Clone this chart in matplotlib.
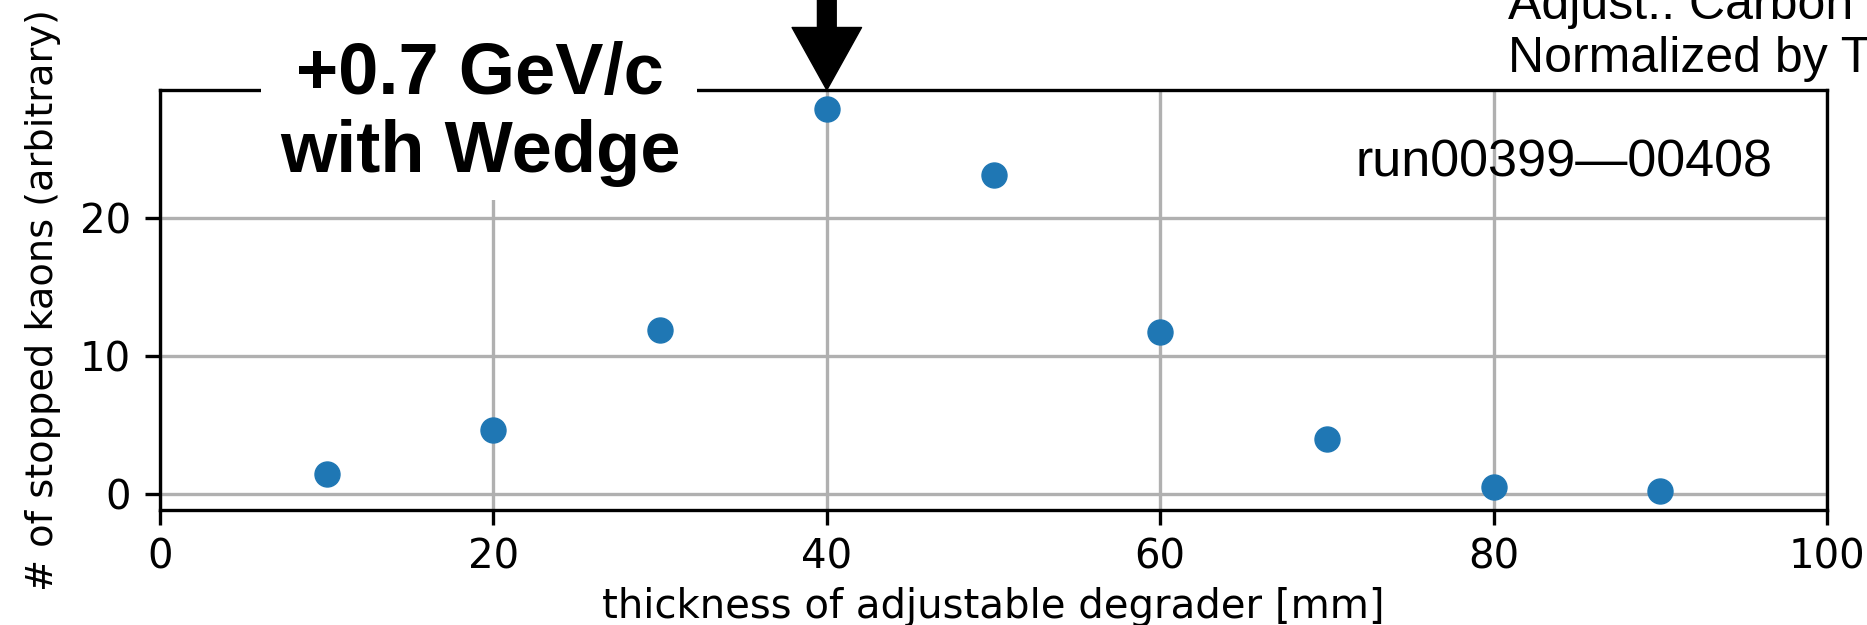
'''
Stopped kaon yield versus the thickness of the adjustable degrader
(+0.7 GeV/c beam, wedge installed), runs 399-408.
'''

import matplotlib.pyplot as plt
from matplotlib.patches import Rectangle

########################################
# Data

thickness = [10, 20, 30, 40, 50, 60, 70, 80, 90]  # mm
stopped_kaons = [1.4, 4.6, 11.9, 27.9, 23.1, 11.7, 4.0, 0.5, 0.2]

best_thickness = 40  # marked with the arrow
run_label = 'run00399—00408'
beam_label = '+0.7 GeV/c\nwith Wedge'
notes = 'Adjust.: Carbon\nNormalized by T'

########################################
# Figure

fig = plt.figure(figsize=(18.67, 6.25), dpi=100)
ax = fig.add_axes([0.0857, 0.184, 0.8929, 0.672])

ax.plot(thickness, stopped_kaons, 'o', color='C0', markersize=18)

ax.set_xlim(0, 100)
ax.set_xticks([0, 20, 40, 60, 80, 100])
ax.set_yticks([0, 10, 20])
ax.grid(True, color='#b0b0b0', linewidth=2.4)

for spine in ax.spines.values():
    spine.set_linewidth(2.4)
ax.tick_params(axis='both', length=10.8, width=2.4, labelsize=29)
ax.tick_params(axis='x', pad=9)
ax.tick_params(axis='y', pad=10)

ax.set_xlabel('thickness of adjustable degrader [mm]', fontsize=29,
        labelpad=7)
ax.set_ylabel('# of stopped kaons (arbitrary)', fontsize=27.5)
ax.yaxis.set_label_coords(-0.0594, 0.5)

# arrow pointing at the chosen thickness, from above the frame
ax.annotate('', xy=(best_thickness, ax.get_ylim()[1]), xycoords='data',
        xytext=(0, 110), textcoords='offset points',
        arrowprops=dict(facecolor='black', edgecolor='black', width=13.5,
            headwidth=50, headlength=45, shrink=0.0),
        annotation_clip=False)

# white patch behind the beam label, hiding spine and grid
ax.add_patch(Rectangle((0.0606, 0.738), 0.2616, 0.6, transform=ax.transAxes,
        facecolor='white', edgecolor='none', zorder=4, clip_on=False))
ax.text(0.192, 0.943, beam_label, transform=ax.transAxes, ha='center',
        va='center', multialignment='center', linespacing=1.2,
        fontsize=52, fontweight='bold', family='Liberation Sans', zorder=5)

ax.text(0.967, 0.795, run_label, transform=ax.transAxes, ha='right',
        va='baseline', fontsize=37.5, family='Liberation Sans')

fig.text(1508 / 1867, 1 - 72 / 625, notes, ha='left', va='baseline',
        linespacing=1.2, fontsize=36, family='Liberation Sans')

fig.savefig('out.png', dpi=100, facecolor='white')
